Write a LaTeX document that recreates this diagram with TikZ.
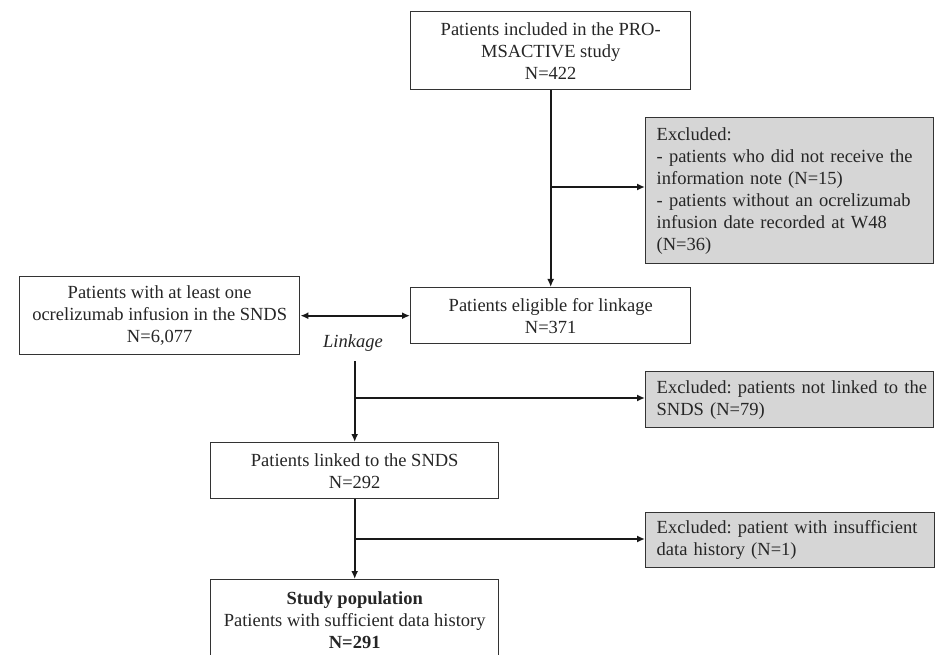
\documentclass[tikz,border=0pt]{standalone}
\usepackage{fontspec}
\setmainfont{Liberation Serif}
\usetikzlibrary{arrows.meta}
\begin{document}
\frenchspacing
\begin{tikzpicture}[x=1pt,y=-1pt,
  box/.style={draw=black!80, line width=1.4pt, align=center, inner sep=0pt,
    font=\fontsize{18.5}{22}\selectfont\frenchspacing, text=black!85, anchor=north west},
  excl/.style={box, fill=black!16, align=left, inner xsep=11pt, inner ysep=0pt},
  arr/.style={line width=1.8pt, draw=black!90, -{Latex[length=8pt,width=7pt]}},
  dblarr/.style={line width=1.8pt, draw=black!90, {Latex[length=8pt,width=7pt]}-{Latex[length=8pt,width=7pt]}}]
\useasboundingbox (0,0) rectangle (943,655);
\clip (0,0) rectangle (943,655);
\fill[white] (0,0) rectangle (943,655);

\node[box, minimum width=280pt, minimum height=78pt] (top) at (410,11)
  {Patients included in the PRO-\\MSACTIVE study\\N=422};
\node[excl, text width=266pt, minimum height=146pt] (ex1) at (645,117)
  {Excluded:\\- patients who did not receive the\\information note (N=15)\\- patients without an ocrelizumab\\infusion date recorded at W48\\(N=36)};
\node[box, minimum width=280pt, minimum height=56pt] (elig) at (410,287)
  {Patients eligible for linkage\\N=371};
\node[box, minimum width=280pt, minimum height=78pt] (snds) at (19,276)
  {Patients with at least one\\ocrelizumab infusion in the SNDS\\N=6,077};
\node[font=\fontsize{18.5}{22}\selectfont\itshape, text=black!85, inner sep=0pt] (link) at (353,343) {Linkage};
\node[excl, text width=266pt, minimum height=56pt] (ex2) at (645,371)
  {\mbox{Excluded: patients not linked to the}\\SNDS (N=79)};
\node[box, minimum width=288pt, minimum height=56pt] (linked) at (210,442)
  {Patients linked to the SNDS\\N=292};
\node[excl, text width=267pt, minimum height=55pt] (ex3) at (645,512)
  {\mbox{Excluded: patient with insufficient}\\data history (N=1)};
\node[box, minimum width=288pt, minimum height=80pt] (study) at (210,579)
  {\textbf{Study population}\\Patients with sufficient data history\\\textbf{N=291}};

\coordinate (b1) at (top.south |- {(0,187)});
\coordinate (lstart) at (linked.north |- {(0,361)});
\coordinate (b2) at (linked.north |- {(0,398)});
\coordinate (b3) at (linked.south |- {(0,539)});

\draw[arr] (top.south) -- (elig.north);
\draw[arr] (b1) -- (b1 -| ex1.west);
\draw[dblarr] (snds.east) -- (elig.west);
\draw[arr] (lstart) -- (linked.north);
\draw[arr] (b2) -- (b2 -| ex2.west);
\draw[arr] (linked.south) -- (study.north);
\draw[arr] (b3) -- (b3 -| ex3.west);
\end{tikzpicture}
\end{document}
